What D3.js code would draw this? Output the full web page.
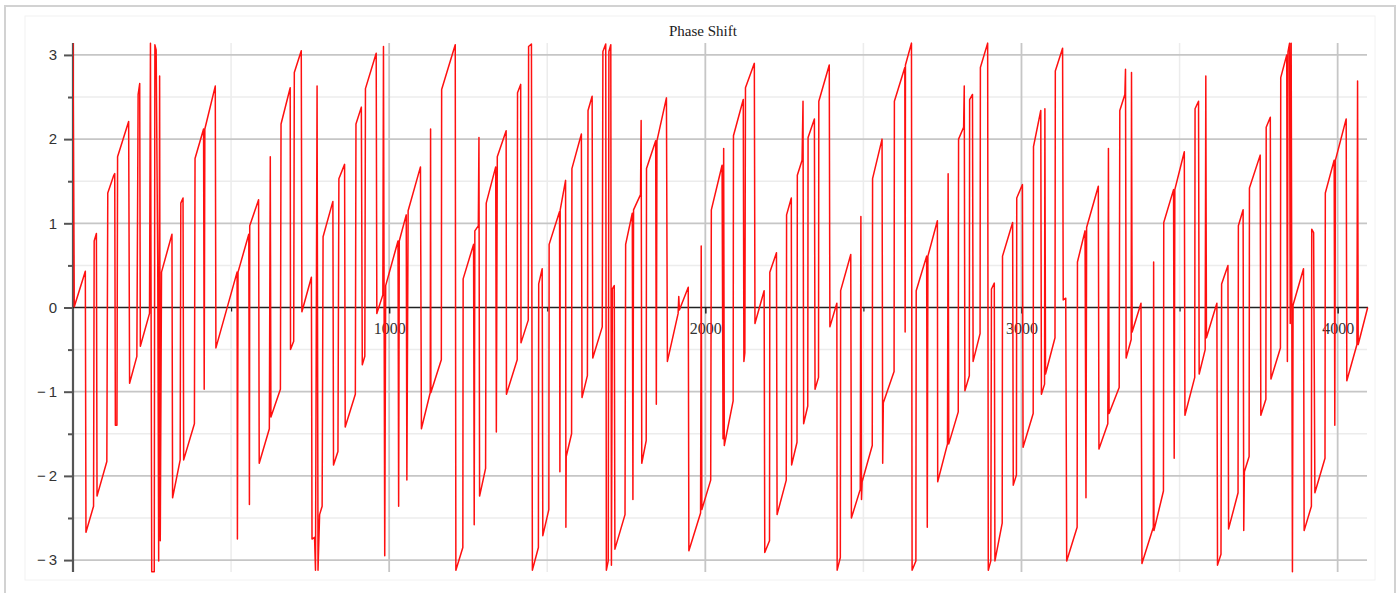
<!DOCTYPE html>
<html><head><meta charset="utf-8">
<script src="https://cdn.jsdelivr.net/npm/d3@7"></script>
<style>
html,body{margin:0;padding:0;background:#fff;}
svg{display:block;}
</style></head>
<body>
<svg id="chart" width="1400" height="593"></svg>
<script>
const chartTitle = "Phase Shift";
const xDomain = [0, 4096];
const yDomain = [-Math.PI, Math.PI];
const xMajorTicks = [1000, 2000, 3000, 4000];
const xMinorTicks = [500, 1500, 2500, 3500];
const yMajorTicks = [-3, -2, -1, 0, 1, 2, 3];
const yMinorTicks = [-2.5, -1.5, -0.5, 0.5, 1.5, 2.5];

const sampleIndex = [
0,4,39,41,65,67,74,76,107,110,129,132,134,139,141,176,179,202,206,211,213,242,245,249,257,259,263,268,271,274,276,280,313,315,339,341,348,350,384,386,413,415,417,450,452,519,520,522,556,558,559,587,589,621,624,626,656,658,687,
688,698,700,722,724,754,756,764,767,772,775,780,788,791,822,824,838,841,859,861,893,895,912,915,923,925,959,961,980,982,986,989,1028,1030,1032,1054,1056,1060,1099,1102,1130,1131,1132,1165,1166,1209,1211,1233,1234,1267,1269,1271,1282,1284,1286,1305,1307,1337,1339,1342,1370,
1371,1405,1406,1416,1417,1440,1441,1450,1453,1472,1473,1484,1486,1505,1506,1539,1540,1541,1558,1559,1560,1577,1578,1608,1610,1627,1629,1642,1644,1674,1676,1685,1687,1693,1695,1701,1703,1706,1712,1714,1746,1748,1769,1771,1773,1795,1797,1799,1813,1814,1843,1845,1847,1877,1880,1914,1916,1918,1946,1948,1985,1987,1989,2017,2019,2053,
2056,2058,2060,2088,2089,2120,2122,2125,2127,2155,2157,2186,2188,2203,2204,2225,2227,2256,2257,2272,2273,2290,2291,2306,2309,2311,2324,2325,2345,2347,2358,2359,2392,2394,2416,2417,2427,2428,2460,2462,2490,2492,2494,2496,2528,2529,2559,2561,2563,2597,2598,2631,2632,2633,2652,2654,2666,2667,2700,2702,2704,2734,
2735,2766,2768,2770,2800,2801,2817,2819,2821,2835,2836,2845,2847,2869,2870,2893,2895,2903,2905,2914,2916,2939,2940,2972,2974,2984,2985,3003,3005,3037,3038,3061,3063,3073,3074,3076,3106,3107,3130,3132,3140,3143,3176,3177,3201,3204,3206,3243,3245,3273,3275,3277,3309,3311,3327,3329,3331,3347,3348,3350,3378,3381,3417,3418,
3419,3449,3450,3481,3483,3485,3515,3517,3548,3549,3560,3562,3581,3583,3585,3618,3620,3631,3633,3653,3655,3685,3686,3701,3703,3705,3720,3721,3755,3757,3773,3774,3787,3789,3819,3820,3839,3841,3843,3848,3850,3853,3857,3859,3892,3894,3917,3918,3924,3928,3960,3961,3989,3991,3993,4027,4029,4061,4063,4065,4095
];
const phaseShift = [
3.14,0.01,0.43,-2.67,-2.36,0.79,0.88,-2.24,-1.83,1.36,1.57,1.59,-1.40,-1.40,1.79,2.21,-0.90,-0.58,2.53,2.66,-0.46,-0.07,3.14,-3.14,-3.14,3.12,3.06,0.54,-3.01,2.75,-2.77,0.42,0.87,-2.26,-1.81,1.24,1.30,-1.81,-1.38,1.77,2.12,-0.97,2.12,2.63,-0.48,0.42,-2.75,0.42,0.87,-2.34,0.97,1.28,-1.85,-1.44,1.79,-1.30,-0.97,2.18,2.61,
-0.50,-0.40,2.79,3.05,-0.05,0.36,-2.75,-2.73,-3.12,2.63,-3.12,-2.46,-2.36,0.84,1.26,-1.87,-1.71,1.53,1.70,-1.42,-1.03,2.18,2.38,-0.68,-0.58,2.60,3.02,-0.07,0.15,3.10,-2.95,0.26,0.79,-2.36,0.79,1.10,-2.05,1.15,1.67,-1.44,-1.01,2.12,-1.01,-0.62,2.59,3.12,-3.12,-2.85,0.34,0.75,-2.58,0.91,0.97,2.02,-2.24,-1.91,1.24,1.67,-1.48,1.79,2.10,
-1.03,-0.62,2.55,2.65,-0.42,-0.15,3.10,3.13,-3.12,-2.85,0.28,0.46,-2.71,-2.40,0.75,1.14,-1.95,1.16,1.51,-2.61,-1.77,-1.50,1.65,2.06,-1.07,-0.81,2.34,2.51,-0.60,-0.23,3.04,3.13,-3.12,-3.01,3.04,3.12,-3.06,0.22,0.26,-2.87,-2.46,0.75,1.12,-2.28,1.16,1.34,2.22,-1.85,-1.58,1.65,1.98,-1.15,1.98,2.49,-0.64,-0.07,0.13,-0.03,0.24,-2.89,-2.44,0.73,-2.40,-2.05,1.16,1.69,
-1.56,1.89,-1.64,-1.11,2.04,2.47,-0.64,-0.54,2.61,2.90,-0.19,0.20,-2.91,-2.77,0.42,0.65,-2.46,-2.05,1.10,1.30,-1.87,-1.60,1.57,1.75,2.45,-1.38,-1.17,2.02,2.24,-0.97,-0.83,2.45,2.88,-0.23,0.05,-3.12,-2.97,0.20,0.63,-2.50,-2.16,1.08,-2.28,-2.07,-1.64,1.53,2.00,-1.85,-1.13,-0.76,2.45,2.85,-0.29,2.88,3.14,-3.12,-3.01,0.20,0.61,-2.61,0.61,1.03,
-2.07,-1.62,1.59,-1.62,-1.24,2.00,2.14,2.63,-0.99,-0.81,2.47,2.53,-0.64,-0.31,2.85,3.14,-3.12,-3.01,0.22,0.29,-3.01,-2.56,0.61,1.01,-2.11,-1.99,1.30,1.46,-1.66,-1.26,1.91,2.34,-1.03,-0.91,2.36,-0.79,-0.36,2.81,3.08,0.09,0.11,-3.01,-2.61,0.54,0.91,-2.26,0.95,1.44,-1.68,-1.38,1.89,-1.26,-0.95,2.34,2.53,2.83,-0.60,-0.38,2.79,-0.29,0.05,-3.04,-2.61,0.54,
-2.65,-2.18,1.01,1.40,-1.79,1.40,1.85,-1.28,-0.83,2.36,2.45,-0.79,-0.50,2.75,-0.36,0.05,-3.06,-2.93,0.28,0.50,-2.63,-2.20,0.97,1.16,-2.65,-1.95,-1.77,1.42,1.81,-1.28,-1.09,2.14,2.26,-0.85,-0.48,2.73,3.00,-0.64,3.04,3.14,-0.19,3.14,-3.14,0.03,0.46,-2.65,-2.36,0.93,0.89,-2.20,-1.79,1.36,1.75,-1.40,1.75,2.24,-0.87,-0.44,2.69,-0.44,0.00
];

const svg = d3.select("#chart");
const W = 1400, H = 593;
const plot = {left: 73, right: 1368, top: 43, bottom: 572};

// outer frame
svg.append("rect").attr("x", 5).attr("y", 6).attr("width", 1390).attr("height", 600)
  .attr("fill", "#fff").attr("stroke", "#d2d2d2").attr("stroke-width", 2);
svg.append("rect").attr("x", 25).attr("y", 16).attr("width", 1350).attr("height", 564)
  .attr("fill", "#fff").attr("stroke", "#f2f2f2").attr("stroke-width", 1);

const x = d3.scaleLinear().domain(xDomain).range([plot.left, plot.right]);
const y = d3.scaleLinear().domain(yDomain).range([plot.bottom, plot.top]);

// grid
const grid = svg.append("g");
grid.selectAll(".hminor").data(yMinorTicks).join("line")
  .attr("x1", plot.left).attr("x2", plot.right - 1)
  .attr("y1", d => y(d)).attr("y2", d => y(d))
  .attr("stroke", "#ececec").attr("stroke-width", 1.5);
grid.selectAll(".vminor").data(xMinorTicks).join("line")
  .attr("y1", plot.top).attr("y2", plot.bottom)
  .attr("x1", d => x(d)).attr("x2", d => x(d))
  .attr("stroke", "#ececec").attr("stroke-width", 1.5);
grid.selectAll(".hmajor").data(yMajorTicks.filter(d => d !== 0)).join("line")
  .attr("x1", plot.left).attr("x2", plot.right - 1)
  .attr("y1", d => y(d)).attr("y2", d => y(d))
  .attr("stroke", "#c6c6c6").attr("stroke-width", 1.8);
grid.selectAll(".vmajor").data(xMajorTicks).join("line")
  .attr("y1", plot.top).attr("y2", plot.bottom)
  .attr("x1", d => x(d)).attr("x2", d => x(d))
  .attr("stroke", "#c6c6c6").attr("stroke-width", 1.8);

// title
svg.append("text").attr("x", 703).attr("y", 36).attr("text-anchor", "middle")
  .attr("font-family", "'Liberation Serif', 'DejaVu Serif', serif").attr("font-size", 15)
  .attr("fill", "#222").text(chartTitle);

// y axis
const yAxis = d3.axisLeft(y).tickValues(yMajorTicks).tickSize(9).tickPadding(7)
  .tickFormat(d => d < 0 ? "\u2212\u2009" + Math.abs(d) : String(d));
const gy = svg.append("g").attr("transform", `translate(${plot.left},0)`).call(yAxis);
gy.select(".domain").attr("stroke", "#555").attr("stroke-width", 2.2)
  .attr("d", `M0,${plot.top}V${plot.bottom}`);
gy.selectAll(".tick line").attr("stroke", "#555").attr("stroke-width", 2);
gy.selectAll(".tick text").attr("font-family", "'Liberation Sans', 'DejaVu Sans', sans-serif")
  .attr("font-size", 15).attr("fill", "#333");
const yMinorAxis = d3.axisLeft(y).tickValues(yMinorTicks).tickSize(5).tickFormat("");
const gym = svg.append("g").attr("transform", `translate(${plot.left},0)`).call(yMinorAxis);
gym.select(".domain").remove();
gym.selectAll(".tick line").attr("stroke", "#555").attr("stroke-width", 2);

// x axis along y = 0
const xAxis = d3.axisBottom(x).tickValues(xMajorTicks).tickSize(6).tickPadding(9)
  .tickFormat(d3.format("d"));
const gx = svg.append("g").attr("transform", `translate(0,${y(0)})`).call(xAxis);
gx.select(".domain").attr("stroke", "#222").attr("stroke-width", 1.6)
  .attr("d", `M${plot.left},0H${plot.right}`);
gx.selectAll(".tick line").attr("stroke", "#222").attr("stroke-width", 1.5);
gx.selectAll(".tick text").attr("font-family", "'Liberation Serif', 'DejaVu Serif', serif")
  .attr("font-size", 16).attr("fill", "#333");
const xMinorAxis = d3.axisBottom(x).tickValues(xMinorTicks).tickSize(4).tickFormat("");
const gxm = svg.append("g").attr("transform", `translate(0,${y(0)})`).call(xMinorAxis);
gxm.select(".domain").remove();
gxm.selectAll(".tick line").attr("stroke", "#222").attr("stroke-width", 1.2);

// clip + line
svg.append("clipPath").attr("id", "clip").append("rect")
  .attr("x", plot.left).attr("y", plot.top - 1)
  .attr("width", plot.right - plot.left + 1).attr("height", plot.bottom - plot.top + 2);
const points = sampleIndex.map((s, i) => [s, phaseShift[i]]);
const line = d3.line().x(d => x(d[0])).y(d => y(d[1]));
svg.append("path").datum(points).attr("clip-path", "url(#clip)")
  .attr("fill", "none").attr("stroke", "#ff1010").attr("stroke-width", 1.5)
  .attr("stroke-linejoin", "round").attr("d", line);
</script>
</body></html>
